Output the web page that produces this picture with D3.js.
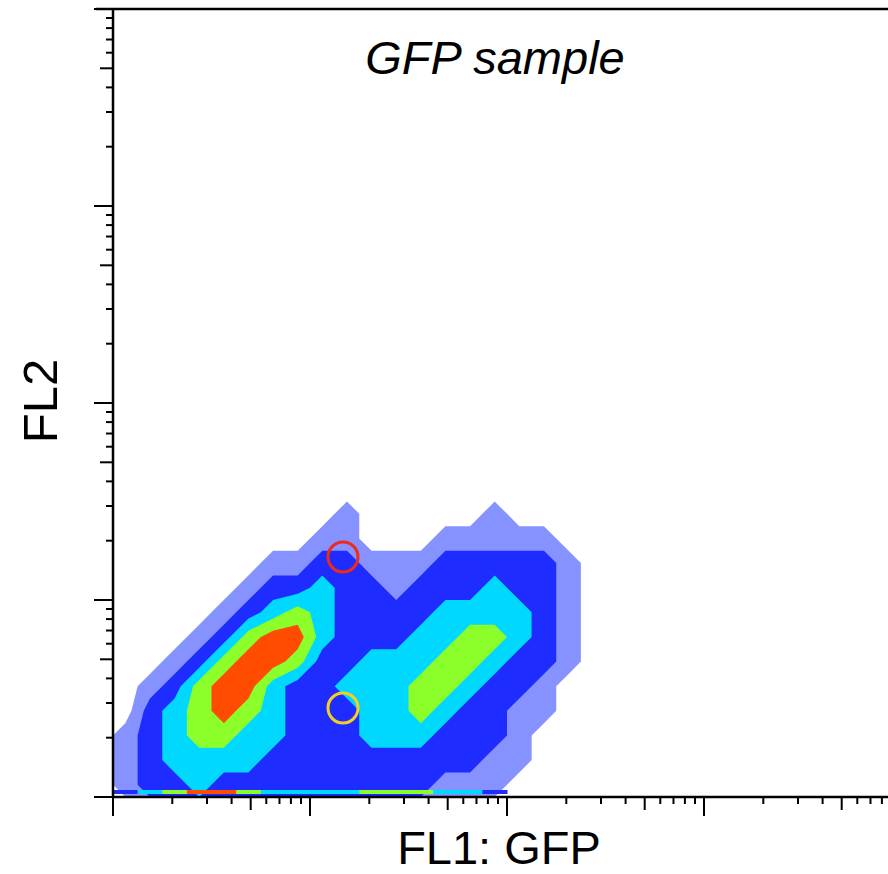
<!DOCTYPE html>
<html><head><meta charset="utf-8">
<script src="https://cdn.jsdelivr.net/npm/d3@7"></script>
<style>body{margin:0;background:#fff}</style>
</head><body>
<script>
// density, 0 = empty .. 5 = red; rows top (high FL2) to bottom, 20 columns per row
const densityRows = [
  [0,0,0,0,0,0,0,0,0,1,0,0,0,0,0,1,0,0,0,0],
  [0,0,0,0,0,0,0,0,1,1,0,0,0,1,1,1,1,1,0,0],
  [0,0,0,0,0,0,1,1,2,2,1,1,1,2,2,2,2,2,1,0],
  [0,0,0,0,0,1,2,2,3,2,2,1,2,2,2,3,2,2,1,0],
  [0,0,0,0,1,2,3,4,3,2,2,2,2,3,3,3,3,2,1,0],
  [0,0,0,1,2,4,5,5,3,2,2,2,3,3,4,4,3,2,1,0],
  [0,0,1,2,4,5,5,4,2,2,3,3,3,4,4,3,2,2,1,0],
  [0,1,2,4,5,5,3,2,2,3,3,3,4,4,3,2,2,1,0,0],
  [0,2,3,4,5,4,3,2,2,2,3,3,4,3,2,2,1,1,0,0],
  [1,2,3,4,4,3,3,2,2,2,3,3,3,2,2,2,1,0,0,0],
  [1,2,3,3,3,3,2,2,2,2,2,2,2,2,2,1,1,0,0,0],
  [1,2,2,3,2,2,2,2,2,2,2,2,2,1,1,1,0,0,0,0]
];
// pile-up on the x axis, per column
const pileLevels = [2,3,4,5,5,4,3,3,3,3,4,4,4,3,3,2,0,0,0,0];
const levelColors = ["#8692ff","#1f2cff","#00d8ff","#8cff2a","#ff4c00"];
const xTitle = "FL1: GFP", yTitle = "FL2", plotTitle = "GFP sample";

const W = 888, H = 874;
const svg = d3.select("body").append("svg").attr("width", W).attr("height", H);

const x = d3.scaleLog().domain([1, 1e4]).range([113, 901]);
const y = d3.scaleLog().domain([1, 1e4]).range([797, 9]);
const step = (x(10) - x(1)) / 8; // grid cell size, 1/8 decade

const nx = densityRows[0].length, ny = densityRows.length;
const values = densityRows.flat();
const contours = d3.contours().size([nx, ny]).thresholds([0.5, 1.5, 2.5, 3.5, 4.5]).smooth(true)(values);
const proj = d3.geoTransform({
  point: function(px, py) {
    this.stream.point(x(1) + px * step, y(1) - (ny - py) * step);
  }
});
svg.append("g").selectAll("path").data(contours).enter().append("path")
  .attr("d", d3.geoPath(proj))
  .attr("fill", (d, i) => levelColors[i]);

// pile-up band
svg.append("g").selectAll("rect").data(pileLevels).enter().append("rect")
  .filter(d => d > 0)
  .attr("x", (d, i) => x(1) + i * step)
  .attr("y", 790).attr("width", step + 0.5).attr("height", 4)
  .attr("fill", d => levelColors[d - 1]);

// marker circles
svg.append("circle").attr("cx", 343).attr("cy", 557).attr("r", 15).attr("fill", "none").attr("stroke", "#ee2a1a").attr("stroke-width", 3);
svg.append("circle").attr("cx", 343).attr("cy", 708).attr("r", 15).attr("fill", "none").attr("stroke", "#f5cf1f").attr("stroke-width", 3);

// log ticks
const ticks = [];
for (let d = 0; d < 4; d++) for (let k = 1; k <= 9; k++) ticks.push({v: k * Math.pow(10, d), k: k});
ticks.push({v: 1e4, k: 1});
const len = k => k === 1 ? 19 : k === 5 ? 13 : 7;
const ax = svg.append("g").attr("stroke", "#000").attr("stroke-width", 2);
ax.selectAll(".xt").data(ticks.filter(t => x(t.v) <= W)).enter().append("line")
  .attr("x1", t => x(t.v)).attr("x2", t => x(t.v)).attr("y1", 797).attr("y2", t => 797 + len(t.k));
ax.selectAll(".yt").data(ticks).enter().append("line")
  .attr("y1", t => y(t.v)).attr("y2", t => y(t.v)).attr("x1", 113).attr("x2", t => 113 - len(t.k));
ax.append("line").attr("x1", 113).attr("x2", W).attr("y1", 797).attr("y2", 797).attr("stroke-width", 2.5);
ax.append("line").attr("x1", 113).attr("x2", 113).attr("y1", 9).attr("y2", 797).attr("stroke-width", 2.5);
ax.append("line").attr("x1", 96).attr("x2", W).attr("y1", 9).attr("y2", 9).attr("stroke-width", 2.5);

const font = "Liberation Sans, Arial, sans-serif";
svg.append("text").attr("x", 495).attr("y", 74).attr("text-anchor", "middle")
  .attr("font-family", font).attr("font-style", "italic").attr("font-size", 47).text(plotTitle);
svg.append("text").attr("x", 499).attr("y", 864).attr("text-anchor", "middle")
  .attr("font-family", font).attr("font-size", 47).text(xTitle);
svg.append("text").attr("transform", "translate(57,401) rotate(-90)").attr("text-anchor", "middle")
  .attr("font-family", font).attr("font-size", 49).text(yTitle);
</script>
</body></html>
